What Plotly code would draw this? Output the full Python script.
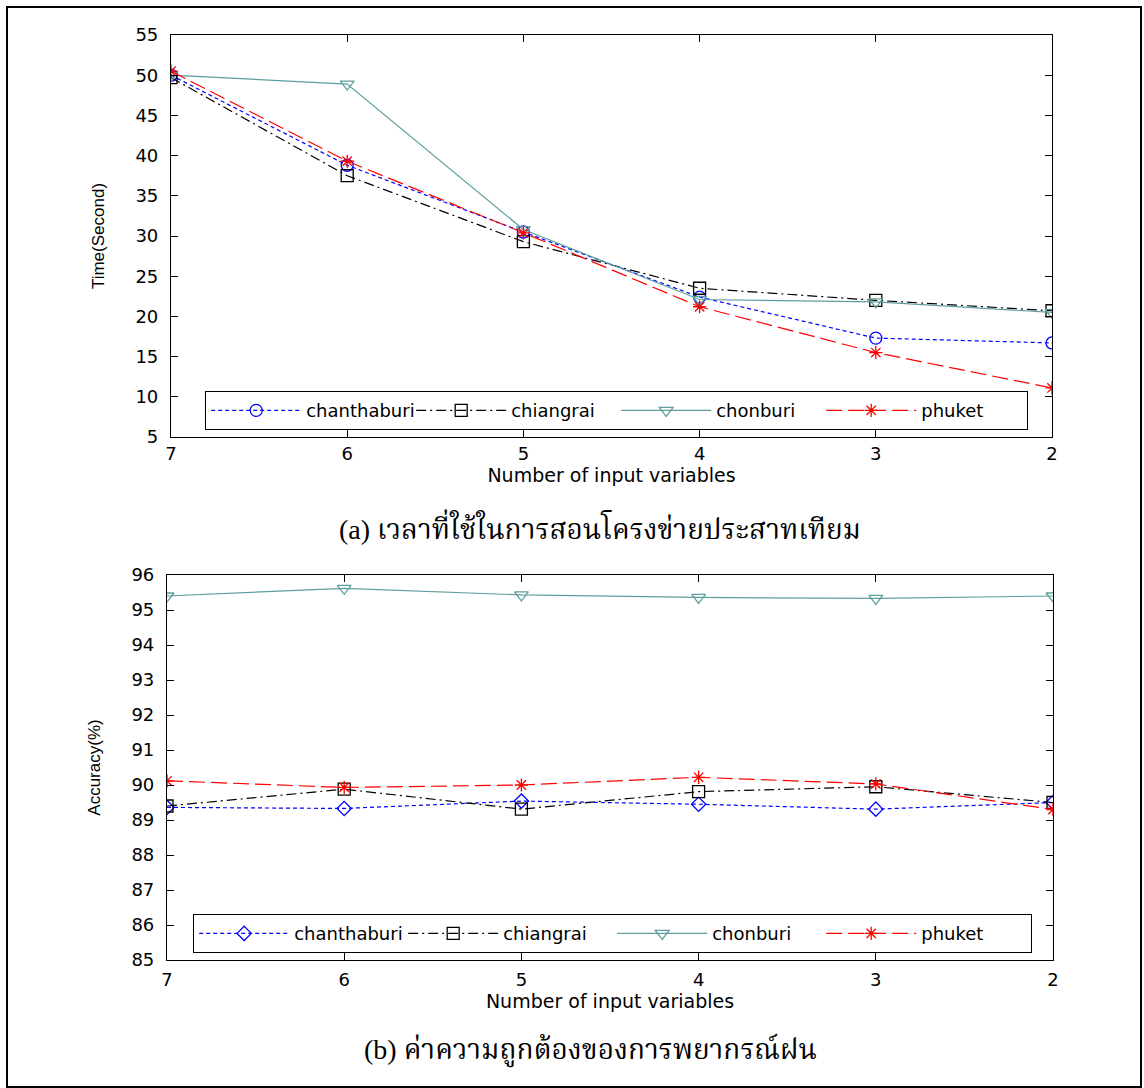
import plotly.graph_objects as go

W, H = 1144, 1088

# ---------------- data ----------------
n_inputs = [7, 6, 5, 4, 3, 2]
series_names = ["chanthaburi", "chiangrai", "chonburi", "phuket"]

time_chanthaburi = [50.0, 38.8, 30.5, 22.4, 17.3, 16.7]
time_chiangrai = [49.7, 37.5, 29.3, 23.5, 22.0, 20.7]
time_chonburi = [50.0, 48.9, 30.8, 22.1, 21.8, 20.5]
time_phuket = [50.5, 39.3, 30.4, 21.2, 15.5, 11.1]

acc_chanthaburi = [89.36, 89.33, 89.54, 89.45, 89.31, 89.50]
acc_chiangrai = [89.40, 89.88, 89.31, 89.81, 89.95, 89.50]
acc_chonburi = [95.40, 95.62, 95.43, 95.36, 95.33, 95.40]
acc_phuket = [90.12, 89.93, 90.00, 90.22, 90.03, 89.30]

x_ticks = [7, 6, 5, 4, 3, 2]
time_ticks = [5, 10, 15, 20, 25, 30, 35, 40, 45, 50, 55]
acc_ticks = [85, 86, 87, 88, 89, 90, 91, 92, 93, 94, 95, 96]

caption_a = "(a) เวลาที่ใช้ในการสอนโครงข่ายประสาทเทียม"
caption_b = "(b) ค่าความถูกต้องของการพยากรณ์ฝน"
x_title = "Number of input variables"
y_title_top = "Time(Second)"
y_title_bottom = "Accuracy(%)"

# ---------------- styles ----------------
colors = ["#0000ff", "#000000", "#5f9e9e", "#ff0000"]
dashes = ["4px,3px", "10px,4px,2px,4px", "solid", "16px,6px"]
top_symbols = ["circle-open", "square-open", "triangle-down-open", "asterisk-open"]
bot_symbols = ["diamond-open", "square-open", "triangle-down-open", "asterisk-open"]
top_sizes = [12, 12, 12, 11]
bot_sizes = [11, 12, 12, 11]

FONT = "DejaVu Sans, Verdana, sans-serif"
TFONT = "Liberation Serif, Noto Serif Thai, Noto Sans Thai, serif"

fig = go.Figure()

top_data = [time_chanthaburi, time_chiangrai, time_chonburi, time_phuket]
bot_data = [acc_chanthaburi, acc_chiangrai, acc_chonburi, acc_phuket]

for i, name in enumerate(series_names):
    fig.add_trace(go.Scatter(
        x=n_inputs, y=top_data[i], name=name, mode="lines+markers",
        line=dict(color=colors[i], width=1.2, dash=dashes[i]),
        marker=dict(symbol=top_symbols[i], size=top_sizes[i], color=colors[i],
                    line=dict(width=1.3, color=colors[i])),
        xaxis="x", yaxis="y", legend="legend",
    ))
for i, name in enumerate(series_names):
    fig.add_trace(go.Scatter(
        x=n_inputs, y=bot_data[i], name=name, mode="lines+markers",
        line=dict(color=colors[i], width=1.2, dash=dashes[i]),
        marker=dict(symbol=bot_symbols[i], size=bot_sizes[i], color=colors[i],
                    line=dict(width=1.3, color=colors[i])),
        xaxis="x2", yaxis="y2", legend="legend2",
    ))

axis_common = dict(
    showline=True, linecolor="black", linewidth=1.2, mirror="ticks",
    ticks="inside", ticklen=7, tickwidth=1.2, tickcolor="black",
    showgrid=False, zeroline=False, automargin=False,
    tickfont=dict(family=FONT, size=18, color="black"),
)

fig.update_layout(
    width=W, height=H,
    margin=dict(l=0, r=0, t=0, b=0, pad=0, autoexpand=False),
    paper_bgcolor="white", plot_bgcolor="white",
    showlegend=True,
    xaxis=dict(domain=[171 / W, 1052 / W], range=[7, 2], tickvals=x_ticks,
               anchor="y", ticklabelstandoff=0,
               title=dict(text=x_title, font=dict(family=FONT, size=19, color="black"), standoff=0),
               **axis_common),
    yaxis=dict(domain=[1 - 437 / H, 1 - 35 / H], range=[5, 55], tickvals=time_ticks,
               anchor="x", ticklabelstandoff=8,
               title=dict(text=y_title_top, font=dict(family="Liberation Sans, Arial", size=17, color="black"), standoff=26),
               **axis_common),
    xaxis2=dict(domain=[167 / W, 1053 / W], range=[7, 2], tickvals=x_ticks,
                anchor="y2", ticklabelstandoff=3,
                title=dict(text=x_title, font=dict(family=FONT, size=19, color="black"), standoff=5),
                **axis_common),
    yaxis2=dict(domain=[1 - 960 / H, 1 - 575 / H], range=[85, 96], tickvals=acc_ticks,
                anchor="x2", ticklabelstandoff=8,
                title=dict(text=y_title_bottom, font=dict(family="Liberation Sans, Arial", size=17, color="black"), standoff=26),
                **axis_common),
    legend=dict(orientation="h", x=205 / W, xanchor="left", y=1 - 430 / H, yanchor="bottom",
                bordercolor="black", borderwidth=1.2, bgcolor="white",
                font=dict(family=FONT, size=18, color="black"),
                itemwidth=90, entrywidth=100, entrywidthmode="pixels"),
    legend2=dict(orientation="h", x=193 / W, xanchor="left", y=1 - 953 / H, yanchor="bottom",
                 bordercolor="black", borderwidth=1.2, bgcolor="white",
                 font=dict(family=FONT, size=18, color="black"),
                 itemwidth=90, entrywidth=104, entrywidthmode="pixels"),
    shapes=[dict(type="rect", xref="paper", yref="paper",
                 x0=7 / W, x1=1141 / W, y0=1 - 1087 / H, y1=1 - 7 / H,
                 line=dict(color="black", width=2), fillcolor="rgba(0,0,0,0)", layer="below")],
    annotations=[
        dict(text=caption_a, x=600 / W, y=1 - 527 / H, xref="paper", yref="paper",
             xanchor="center", yanchor="middle", showarrow=False,
             font=dict(family=TFONT, size=28, color="black")),
        dict(text=caption_b, x=590 / W, y=1 - 1050 / H, xref="paper", yref="paper",
             xanchor="center", yanchor="middle", showarrow=False,
             font=dict(family=TFONT, size=28, color="black")),
    ],
)

fig.write_html("out.html")
